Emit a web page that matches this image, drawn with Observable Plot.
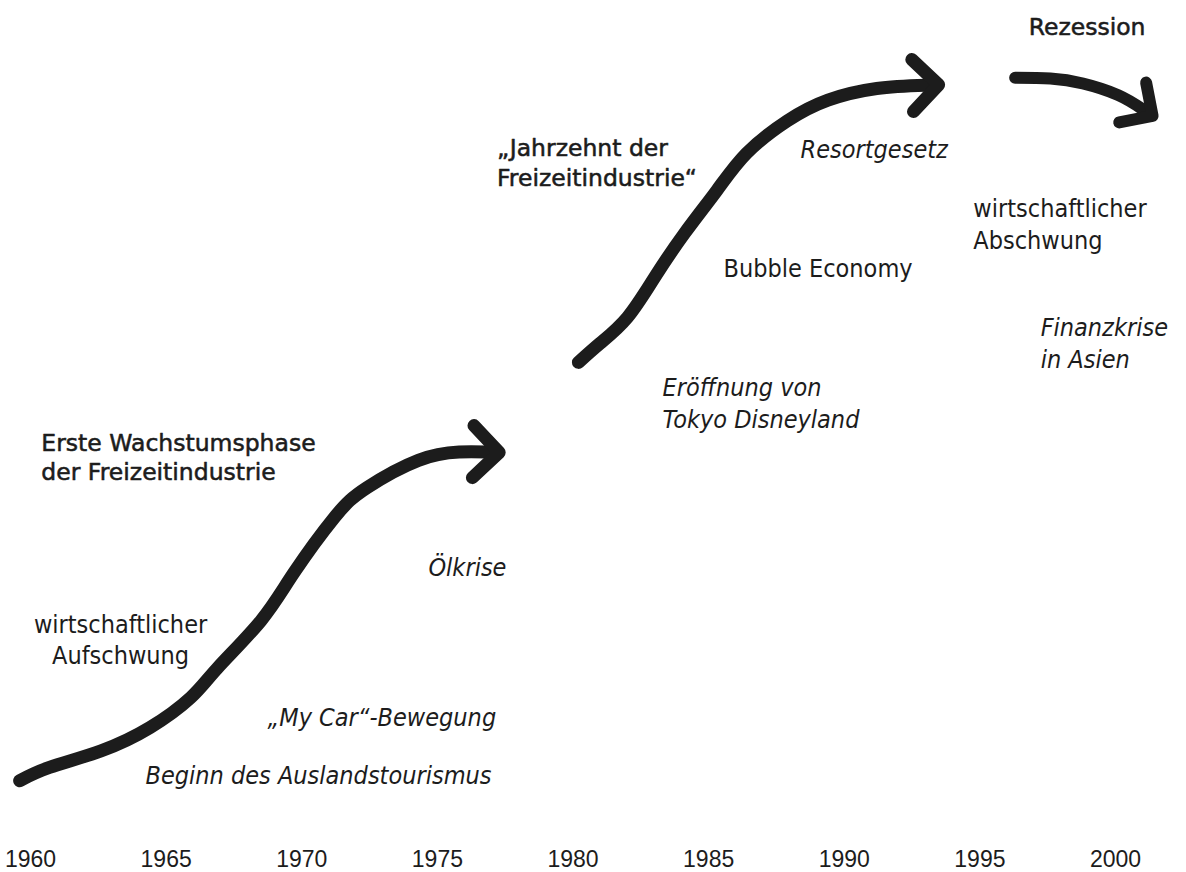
<!DOCTYPE html>
<html>
<head>
<meta charset="utf-8">
<script src="https://cdn.jsdelivr.net/npm/d3@7"></script>
<script src="https://cdn.jsdelivr.net/npm/@observablehq/plot@0.6"></script>
<style>
  html, body { margin: 0; padding: 0; background: #fff; }
</style>
</head>
<body>
<div id="chart"></div>
<script>
// ---- tick labels (x axis: years) ----
const tickYears = [1960, 1965, 1970, 1975, 1980, 1985, 1990, 1995, 2000];

// ---- arrow 1: first growth phase of the leisure industry ----
const phase1Year  = [1959.6, 1960.7, 1962.6, 1964.4, 1965.9, 1966.9, 1968.5, 1969.7, 1971.2, 1972.4, 1974.3, 1975.8, 1976.8];
const phase1Level = [6.0, 7.6, 9.6, 12.4, 16.0, 19.6, 25.3, 31.0, 37.7, 41.3, 44.6, 45.6, 45.6];

// ---- arrow 2: "decade of the leisure industry" ----
const phase2Year  = [1980.2, 1981.0, 1982.0, 1983.0, 1984.1, 1985.3, 1986.4, 1987.9, 1989.4, 1991.2, 1993.0];
const phase2Level = [56.4, 58.7, 61.8, 66.6, 71.9, 77.1, 81.6, 85.5, 88.0, 89.4, 89.8];

// ---- arrow 3: recession ----
const phase3Year  = [1996.3, 1997.6, 1998.8, 2000.1, 2001.0];
const phase3Level = [90.7, 90.6, 90.0, 88.6, 86.9];

// ---- annotations ----
const headlineText  = ["Erste Wachstumsphase\nder Freizeitindustrie", "„Jahrzehnt der\nFreizeitindustrie“", "Rezession"];
const headlineYear  = [1960.4, 1977.2, 1996.8];
const headlineLevel = [45.1, 80.6, 97.0];

const plainText  = ["Bubble Economy", "wirtschaftlicher\nAbschwung"];
const plainYear  = [1985.55, 1994.76];
const plainLevel = [67.9, 73.2];

const centeredText  = ["wirtschaftlicher\nAufschwung"];
const centeredYear  = [1963.32];
const centeredLevel = [23.1];

const eventText  = ["Beginn des Auslandstourismus", "„My Car“-Bewegung", "Ölkrise", "Eröffnung von\nTokyo Disneyland", "Resortgesetz", "Finanzkrise\nin Asien"];
const eventYear  = [1964.24, 1968.74, 1974.67, 1983.30, 1988.39, 1997.24];
const eventLevel = [6.9, 13.9, 31.9, 51.7, 82.3, 58.9];

const INK = "#1c1c1c";
const FONT = "'DejaVu Sans Condensed', 'DejaVu Sans', sans-serif";

const arrow = (xs, ys, w) => Plot.line(xs, {
  x: xs, y: ys,
  curve: "natural",
  stroke: INK, strokeWidth: w,
  strokeLinecap: "round", strokeLinejoin: "round",
  markerEnd: "arrow"
});

const chart = Plot.plot({
  width: 1186,
  height: 872,
  marginLeft: 30,
  marginRight: 71,
  marginTop: 0,
  marginBottom: 42,
  style: { background: "#fff", color: INK, overflow: "visible" },
  x: { domain: [1960, 2000], label: null },
  y: { domain: [0, 100], axis: null, label: null },
  marks: [
    Plot.axisX({
      ticks: tickYears, tickFormat: d => String(d), tickSize: 0, tickPadding: 20,
      fontSize: 23, fontFamily: "'Liberation Sans Narrow', 'Liberation Sans', sans-serif",
      fill: INK, label: null
    }),
    arrow(phase1Year, phase1Level, 13),
    arrow(phase2Year, phase2Level, 13),
    arrow(phase3Year, phase3Level, 12),
    Plot.text(headlineText, {
      x: headlineYear, y: headlineLevel, text: d => d,
      textAnchor: "start", lineAnchor: "middle", lineHeight: 1.25,
      fontSize: 23.5, fontWeight: "normal", fontFamily: "'DejaVu Sans', sans-serif", fill: INK,
      stroke: INK, strokeWidth: 0.55
    }),
    Plot.text(plainText, {
      x: plainYear, y: plainLevel, text: d => d,
      textAnchor: "start", lineAnchor: "middle", lineHeight: 1.25,
      fontSize: 25, fontFamily: FONT, fill: INK
    }),
    Plot.text(centeredText, {
      x: centeredYear, y: centeredLevel, text: d => d,
      textAnchor: "middle", lineAnchor: "middle", lineHeight: 1.25,
      fontSize: 25, fontFamily: FONT, fill: INK
    }),
    Plot.text(eventText, {
      x: eventYear, y: eventLevel, text: d => d,
      textAnchor: "start", lineAnchor: "middle", lineHeight: 1.3,
      fontSize: 25, fontStyle: "italic", fontFamily: FONT, fill: INK
    })
  ]
});

document.getElementById("chart").appendChild(chart);
</script>
</body>
</html>
